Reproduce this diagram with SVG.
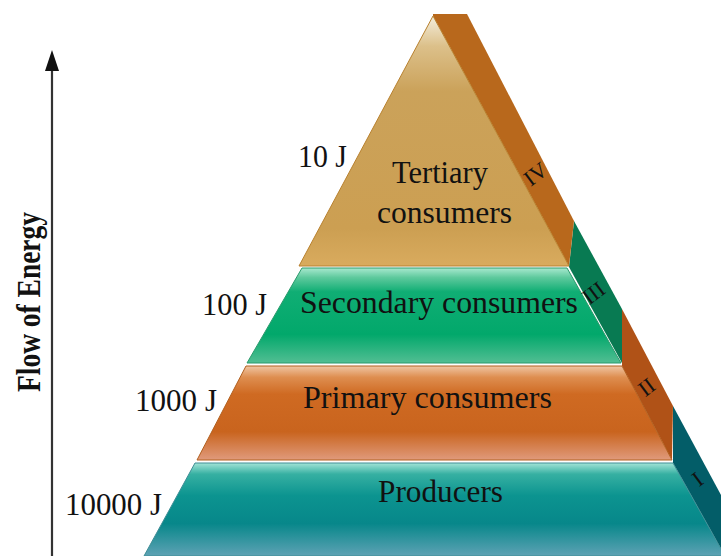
<svg xmlns="http://www.w3.org/2000/svg" width="721" height="556" viewBox="0 0 721 556">
<defs>
<linearGradient id="gTert" x1="0" y1="0" x2="0" y2="1">
<stop offset="0" stop-color="#f4eedc"/>
<stop offset="0.12" stop-color="#dcc08a"/>
<stop offset="0.3" stop-color="#cba25a"/>
<stop offset="0.85" stop-color="#cc9f52"/>
<stop offset="1" stop-color="#d9ab5e"/>
</linearGradient>
<linearGradient id="gSec" x1="0" y1="0" x2="0" y2="1">
<stop offset="0" stop-color="#a8e9cf"/>
<stop offset="0.1" stop-color="#5ec99d"/>
<stop offset="0.25" stop-color="#10ae74"/>
<stop offset="0.7" stop-color="#02a86b"/>
<stop offset="1" stop-color="#52be93"/>
</linearGradient>
<linearGradient id="gPri" x1="0" y1="0" x2="0" y2="1">
<stop offset="0" stop-color="#f0c6a4"/>
<stop offset="0.12" stop-color="#de8e50"/>
<stop offset="0.3" stop-color="#cf6a22"/>
<stop offset="0.7" stop-color="#c9641e"/>
<stop offset="1" stop-color="#e09a7c"/>
</linearGradient>
<linearGradient id="gProd" x1="0" y1="0" x2="0" y2="1">
<stop offset="0" stop-color="#a2e4d7"/>
<stop offset="0.12" stop-color="#36b0a2"/>
<stop offset="0.35" stop-color="#0c9490"/>
<stop offset="0.65" stop-color="#07878a"/>
<stop offset="1" stop-color="#5ea2b4"/>
</linearGradient>
</defs>
<style>
.lbl { font-family: "Liberation Serif", "Times New Roman", serif; font-size: 31px; fill: #111; }
.num { font-family: "Liberation Serif", "Times New Roman", serif; font-size: 31px; fill: #111; text-anchor: end; }
.rom { font-family: "Liberation Serif", "Times New Roman", serif; font-size: 22px; fill: #111; text-anchor: middle; }
.axis { font-family: "Liberation Serif", "Times New Roman", serif; font-size: 34px; font-weight: bold; fill: #111; text-anchor: middle; }
</style>

<g id="connectors">
<line x1="52" y1="556" x2="52" y2="70" stroke="#333" stroke-width="2.2"/>
<polygon points="52,50 45,71 59,71" fill="#111"/>
</g>

<g id="axis-label">
<text class="axis" transform="translate(40,302) rotate(-90)" x="0" y="0" textLength="180" lengthAdjust="spacingAndGlyphs">Flow of Energy</text>
</g>

<g id="producers">
<polygon points="673,406 754,556 725,556 673,463" fill="#035d68"/>
<polygon points="195,463 673,463 725,556 144,556" fill="url(#gProd)" stroke="#3f8d95" stroke-width="1"/>
<text class="lbl" x="440.5" y="502" text-anchor="middle" textLength="125" lengthAdjust="spacingAndGlyphs">Producers</text>
<text class="num" x="162" y="515" textLength="97" lengthAdjust="spacingAndGlyphs">10000 J</text>
<text class="rom" transform="translate(702,485) rotate(-37)">I</text>
</g>

<g id="primary">
<polygon points="622,309 673,406 672,460 622,366" fill="#b05217"/>
<polygon points="246,366 622,366 672,460 197,460" fill="url(#gPri)" stroke="#b2601f" stroke-width="1"/>
<text class="lbl" x="427.5" y="408" text-anchor="middle" textLength="249" lengthAdjust="spacingAndGlyphs">Primary consumers</text>
<text class="num" x="217" y="411" textLength="82" lengthAdjust="spacingAndGlyphs">1000 J</text>
<text class="rom" transform="translate(651,393) rotate(-37)">II</text>
</g>

<g id="secondary">
<polygon points="574,221 622,309 622,363 569,267" fill="#087a52"/>
<polygon points="302,268 567,268 621,363 247,363" fill="url(#gSec)" stroke="#2b9a6c" stroke-width="1"/>
<text class="lbl" x="439" y="313" text-anchor="middle" textLength="278" lengthAdjust="spacingAndGlyphs">Secondary consumers</text>
<text class="num" x="267" y="315" textLength="65" lengthAdjust="spacingAndGlyphs">100 J</text>
<text class="rom" transform="translate(598,299) rotate(-37)">III</text>
</g>

<g id="tertiary">
<polygon points="433,14 467,14 574,221 569,266 433,16" fill="#b8681c"/>
<polygon points="433,16 569,266 299,266" fill="url(#gTert)" stroke="#b8802e" stroke-width="1"/>
<text class="lbl" x="440" y="183" text-anchor="middle" textLength="96" lengthAdjust="spacingAndGlyphs">Tertiary</text>
<text class="lbl" x="444.5" y="223" text-anchor="middle" textLength="135" lengthAdjust="spacingAndGlyphs">consumers</text>
<text class="num" x="347" y="167" textLength="49" lengthAdjust="spacingAndGlyphs">10 J</text>
<text class="rom" transform="translate(540,180) rotate(-37)">IV</text>
</g>
</svg>
